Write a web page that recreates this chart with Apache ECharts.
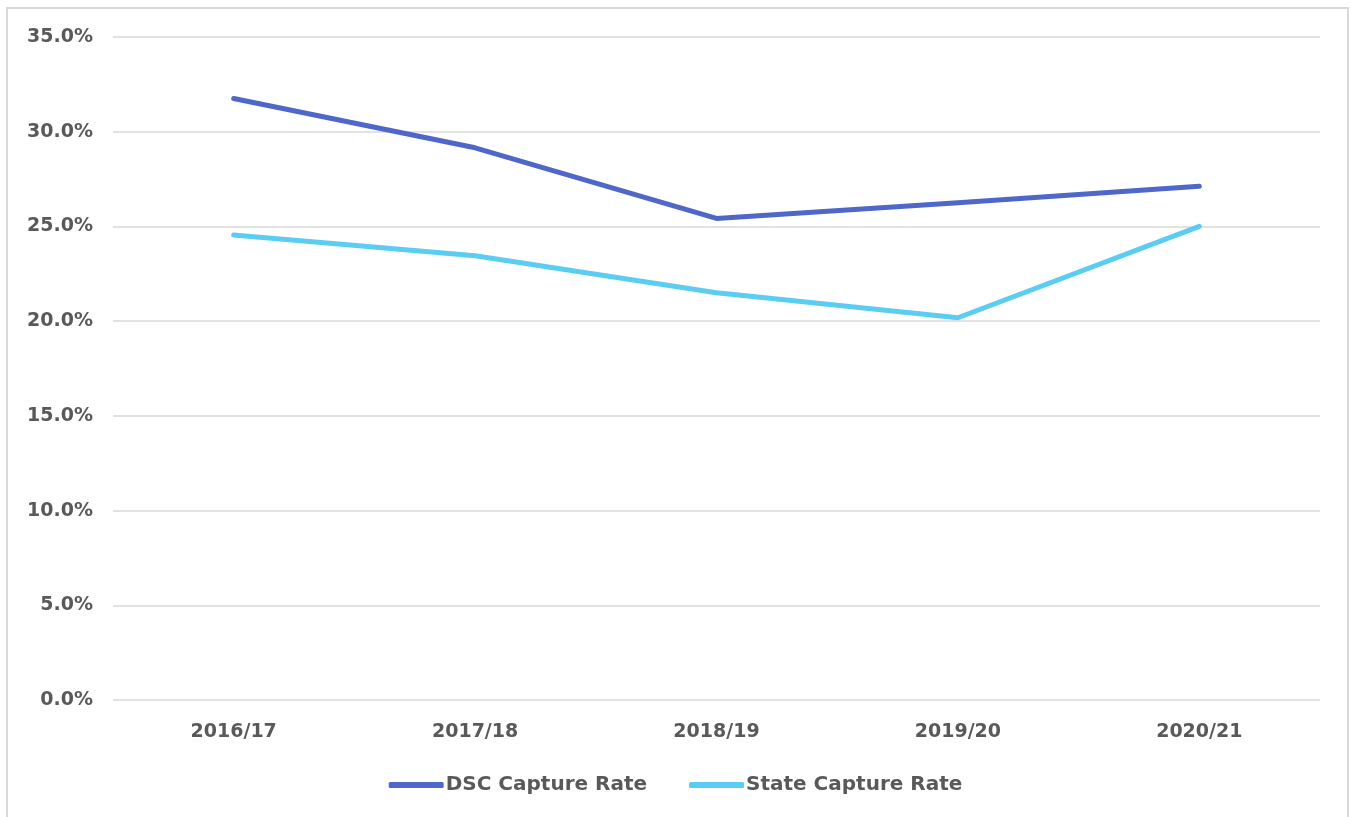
<!DOCTYPE html>
<html>
<head>
<meta charset="utf-8">
<script src="https://cdn.jsdelivr.net/npm/echarts@6/dist/echarts.min.js"></script>
<style>
  html, body { margin: 0; padding: 0; background: #fff; }
  #frame {
    position: absolute; left: 6px; top: 7px; width: 1343px; height: 820px;
    border: 2px solid #d9d9d9; box-sizing: border-box;
  }
  #chart { position: absolute; left: 0; top: 0; width: 1351px; height: 817px; }
</style>
</head>
<body>
<div id="frame"></div>
<div id="chart"></div>
<script>
var years = ["2016/17", "2017/18", "2018/19", "2019/20", "2020/21"];
var dscRate = [31.75, 29.15, 25.42, 26.25, 27.12];
var stateRate = [24.55, 23.45, 21.5, 20.18, 25.0];

var labelFont = "'DejaVu Sans', sans-serif";

var myChart = echarts.init(document.getElementById("chart"));
var option = {
  animation: false,
  grid: { left: 113, right: 31, top: 37, bottom: 117, containLabel: false },
  legend: {
    bottom: 17,
    left: "center",
    itemWidth: 55,
    itemHeight: 6,
    itemGap: 42,
    icon: "roundRect",
    textStyle: { fontFamily: labelFont, fontSize: 20, fontWeight: "bold", color: "#595959", padding: [0, 0, 0, -3] },
    data: ["DSC Capture Rate", "State Capture Rate"]
  },
  xAxis: {
    type: "category",
    data: years,
    boundaryGap: true,
    axisLine: { show: false },
    axisTick: { show: false },
    axisLabel: { margin: 23, fontFamily: labelFont, fontSize: 19, fontWeight: "bold", color: "#595959" }
  },
  yAxis: {
    type: "value",
    min: 0,
    max: 35,
    interval: 5,
    axisLine: { show: false },
    axisTick: { show: false },
    splitLine: { lineStyle: { color: "#d9d9d9", width: 1.5 } },
    axisLabel: {
      margin: 20,
      fontFamily: labelFont, fontSize: 19, fontWeight: "bold", color: "#595959",
      formatter: function (v) { return v.toFixed(1) + "%"; }
    }
  },
  series: [
    {
      name: "DSC Capture Rate",
      type: "line",
      data: dscRate,
      showSymbol: false,
      symbol: "none",
      itemStyle: { color: "#4f67c8" },
      lineStyle: { width: 5, color: "#4f67c8", cap: "round", join: "round" }
    },
    {
      name: "State Capture Rate",
      type: "line",
      data: stateRate,
      showSymbol: false,
      symbol: "none",
      itemStyle: { color: "#5bcdf3" },
      lineStyle: { width: 5, color: "#5bcdf3", cap: "round", join: "round" }
    }
  ]
};
myChart.setOption(option);
</script>
</body>
</html>
